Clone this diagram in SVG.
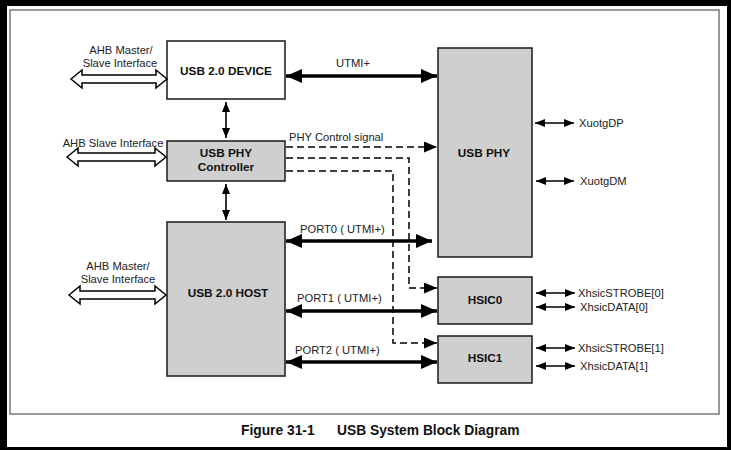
<svg xmlns="http://www.w3.org/2000/svg" width="731" height="450" viewBox="0 0 731 450">
<style>
.box{stroke:#1a1a1a;stroke-width:1.5}
.gray{fill:#cfcfcf}
.white{fill:#ffffff}
.nl{font-family:"Liberation Sans",Arial,sans-serif;font-weight:bold;font-size:11.8px;fill:#111;text-anchor:middle}
.lb{font-family:"Liberation Sans",Arial,sans-serif;font-size:11.2px;fill:#222}
.mid{text-anchor:middle}
.thick{stroke:#000;stroke-width:3.5;fill:none}
.thin{stroke:#000;stroke-width:1.6;fill:none}
.dash{stroke:#000;stroke-width:1.5;fill:none;stroke-dasharray:7,4}
.hollow{fill:#fff;stroke:#000;stroke-width:1.5;stroke-linejoin:miter}
.cap{font-family:"Liberation Sans",Arial,sans-serif;font-weight:bold;font-size:13.8px;fill:#111}
</style>
<defs>
<marker id="big" markerUnits="userSpaceOnUse" markerWidth="17" markerHeight="14" refX="16" refY="7" orient="auto-start-reverse">
<path d="M0,0 L16,7 L0,14 z" fill="#000"/>
</marker>
<marker id="sm" markerUnits="userSpaceOnUse" markerWidth="10" markerHeight="8" refX="10" refY="4" orient="auto-start-reverse">
<path d="M0,0 L10,4 L0,8 z" fill="#000"/>
</marker>
<marker id="dh" markerUnits="userSpaceOnUse" markerWidth="14" markerHeight="11" refX="13" refY="5.5" orient="auto">
<path d="M0,0 L13,5.5 L0,11 z" fill="#000"/>
</marker>
</defs>
<rect x="0" y="0" width="731" height="450" fill="#000"/>
<rect x="7" y="6" width="720" height="441" fill="#fff"/>
<rect x="10" y="10" width="709" height="404" fill="none" stroke="#777" stroke-width="1.5"/>

<g id="usb-device"><rect class="box white" x="167" y="41" width="118" height="58"/><text class="nl" x="226" y="75">USB 2.0 DEVICE</text></g>
<g id="usb-phy-controller"><rect class="box gray" x="167" y="141" width="118" height="40"/><text class="nl" x="226" y="157">USB PHY</text><text class="nl" x="226" y="171">Controller</text></g>
<g id="usb-host"><rect class="box gray" x="167" y="222" width="118" height="154"/><text class="nl" x="228" y="297">USB 2.0 HOST</text></g>
<g id="usb-phy"><rect class="box gray" x="438" y="48" width="94" height="209"/><text class="nl" x="484" y="157">USB PHY</text></g>
<g id="hsic0"><rect class="box gray" x="438" y="277" width="94" height="47"/><text class="nl" x="485" y="304">HSIC0</text></g>
<g id="hsic1"><rect class="box gray" x="438" y="336" width="94" height="47"/><text class="nl" x="485" y="362">HSIC1</text></g>

<g id="connectors">
<polygon class="hollow" points="71,79 82,70 82,75 156,75 156,70 167,79 156,88 156,83 82,83 82,88"/>
<polygon class="hollow" points="67,157 78,148 78,153 155,153 155,148 166,157 155,166 155,161 78,161 78,166"/>
<polygon class="hollow" points="69,295 80,286 80,291 155,291 155,286 166,295 155,304 155,299 80,299 80,304"/>

<line class="thick" x1="286" y1="76" x2="437" y2="76" marker-start="url(#big)" marker-end="url(#big)"/>
<line class="thick" x1="286" y1="241" x2="432" y2="241" marker-start="url(#big)" marker-end="url(#big)"/>
<line class="thick" x1="286" y1="311" x2="437" y2="311" marker-start="url(#big)" marker-end="url(#big)"/>
<line class="thick" x1="286" y1="362" x2="437" y2="362" marker-start="url(#big)" marker-end="url(#big)"/>

<line class="thin" x1="226" y1="102" x2="226" y2="138" marker-start="url(#sm)" marker-end="url(#sm)"/>
<line class="thin" x1="226" y1="184" x2="226" y2="220" marker-start="url(#sm)" marker-end="url(#sm)"/>

<polyline class="dash" points="286,147 437,147" marker-end="url(#dh)"/>
<polyline class="dash" points="286,158 409,158 409,288 437,288" marker-end="url(#dh)"/>
<polyline class="dash" points="286,171 393,171 393,343 437,343" marker-end="url(#dh)"/>

<line class="thin" x1="535" y1="123" x2="574" y2="123" marker-start="url(#sm)" marker-end="url(#sm)"/>
<line class="thin" x1="536" y1="181" x2="574" y2="181" marker-start="url(#sm)" marker-end="url(#sm)"/>
<line class="thin" x1="536" y1="293" x2="575" y2="293" marker-start="url(#sm)" marker-end="url(#sm)"/>
<line class="thin" x1="536" y1="307" x2="575" y2="307" marker-start="url(#sm)" marker-end="url(#sm)"/>
<line class="thin" x1="536" y1="348" x2="575" y2="348" marker-start="url(#sm)" marker-end="url(#sm)"/>
<line class="thin" x1="536" y1="366" x2="575" y2="366" marker-start="url(#sm)" marker-end="url(#sm)"/>
</g>

<g id="labels">
<text class="lb mid" x="121" y="54">AHB Master/</text>
<text class="lb mid" x="120" y="67">Slave Interface</text>
<text class="lb mid" x="113" y="147">AHB Slave Interface</text>
<text class="lb mid" x="118" y="270">AHB Master/</text>
<text class="lb mid" x="118" y="283">Slave Interface</text>
<text class="lb mid" x="353" y="67">UTMI+</text>
<text class="lb" x="289" y="141">PHY Control signal</text>
<text class="lb" x="300" y="233">PORT0 ( UTMI+)</text>
<text class="lb" x="297" y="302">PORT1 ( UTMI+)</text>
<text class="lb" x="295" y="354">PORT2 ( UTMI+)</text>
<text class="lb" x="579" y="127">XuotgDP</text>
<text class="lb" x="580" y="185">XuotgDM</text>
<text class="lb" x="578" y="297">XhsicSTROBE[0]</text>
<text class="lb" x="580" y="311">XhsicDATA[0]</text>
<text class="lb" x="578" y="352">XhsicSTROBE[1]</text>
<text class="lb" x="580" y="370">XhsicDATA[1]</text>
<text class="cap" x="241" y="435">Figure 31-1</text>
<text class="cap" x="337" y="435">USB System Block Diagram</text>
</g>
</svg>
